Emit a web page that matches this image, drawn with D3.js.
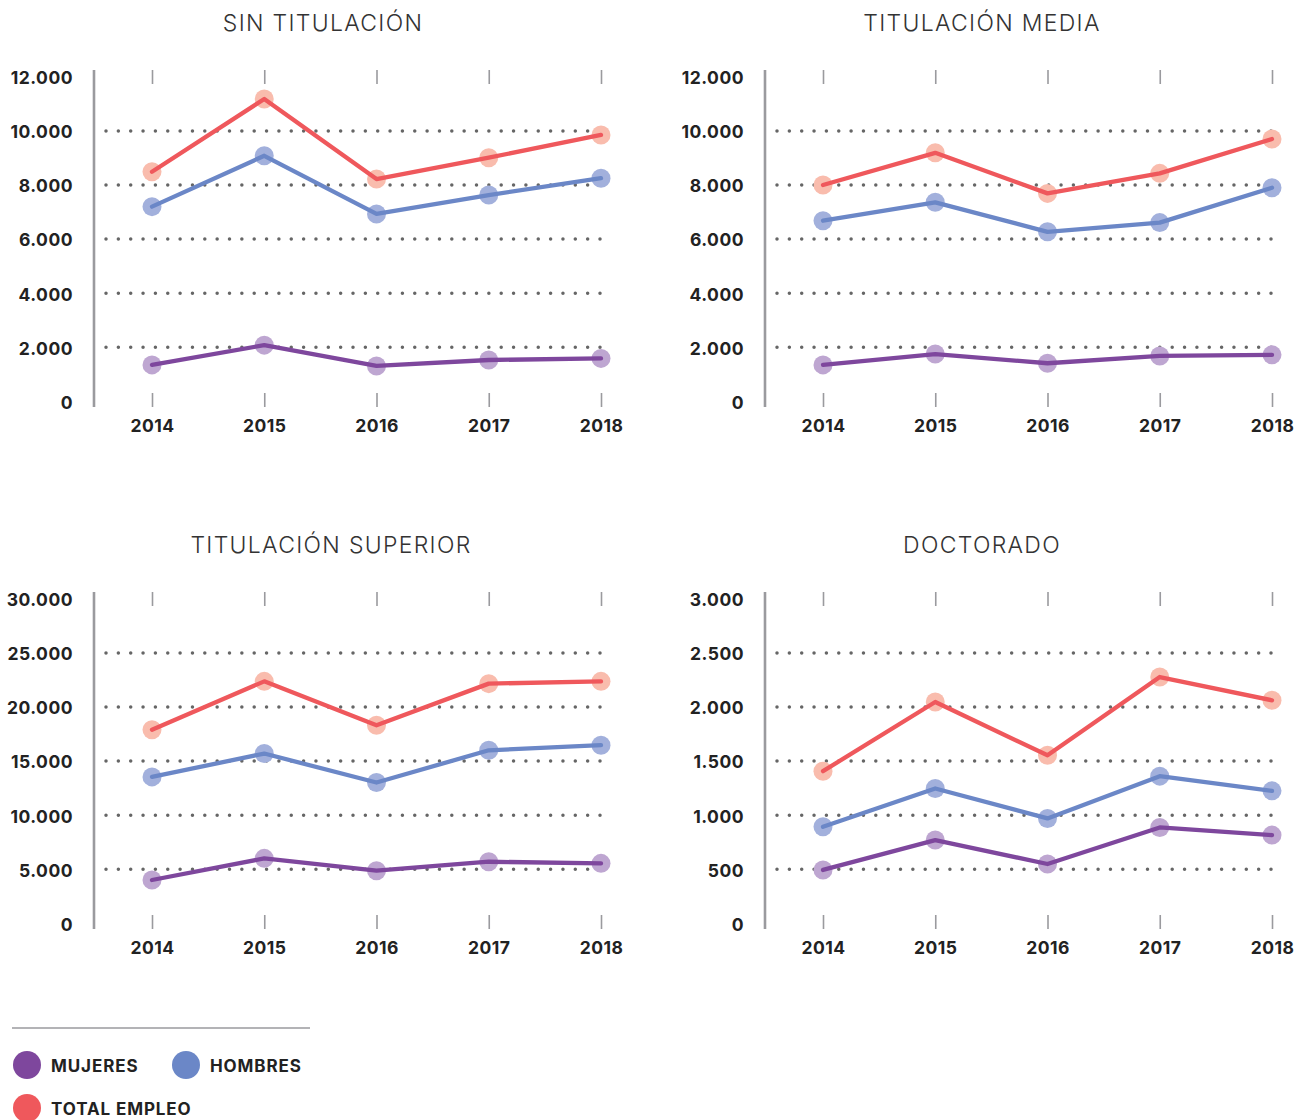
<!DOCTYPE html>
<html>
<head>
<meta charset="utf-8">
<script src="https://cdn.jsdelivr.net/npm/d3@7"></script>
<style>
  body { margin: 0; background: #fff; }
  svg { display: block; }
  .ytick text, .xtick text { font-family: Inter, "Noto Sans", sans-serif; font-weight: 700; font-size: 17.5px; fill: #222; letter-spacing: 0.5px; }
  .title { font-family: Inter, "Noto Sans", sans-serif; font-weight: 300; font-size: 23px; fill: #333; letter-spacing: 1.3px; }
  .legend text { font-family: Inter, "Noto Sans", sans-serif; font-weight: 700; font-size: 17px; fill: #222; letter-spacing: 0.9px; }
</style>
</head>
<body>
<div id="chart"></div>
<script>
// data
var years = ["2014", "2015", "2016", "2017", "2018"];

var sinMujeres = [1350, 2080, 1310, 1530, 1590];
var sinHombres = [7200, 9080, 6930, 7630, 8250];
var sinTotal   = [8490, 11180, 8220, 9010, 9850];
var sinTicks   = [0, 2000, 4000, 6000, 8000, 10000, 12000];

var mediaMujeres = [1350, 1750, 1410, 1680, 1720];
var mediaHombres = [6680, 7360, 6270, 6610, 7900];
var mediaTotal   = [8000, 9190, 7690, 8430, 9700];
var mediaTicks   = [0, 2000, 4000, 6000, 8000, 10000, 12000];

var supMujeres = [4010, 6010, 4870, 5700, 5550];
var supHombres = [13540, 15700, 13020, 16000, 16470];
var supTotal   = [17900, 22370, 18310, 22160, 22370];
var supTicks   = [0, 5000, 10000, 15000, 20000, 25000, 30000];

var docMujeres = [494, 770, 549, 887, 816];
var docHombres = [893, 1247, 970, 1361, 1225];
var docTotal   = [1407, 2046, 1554, 2277, 2062];
var docTicks   = [0, 500, 1000, 1500, 2000, 2500, 3000];

var seriesNames = ["TOTAL EMPLEO", "HOMBRES", "MUJERES"];
var lineColors = {"MUJERES": "#7e479d", "HOMBRES": "#6b87c7", "TOTAL EMPLEO": "#ef585c"};
var dotColors  = {"MUJERES": "#bea6d1", "HOMBRES": "#a2b0dc", "TOTAL EMPLEO": "#f9bcad"};

var panels = [
  {title: "SIN TITULACIÓN", ticks: sinTicks, values: [sinTotal, sinHombres, sinMujeres], dx: 0, dy: 0, tx: 323},
  {title: "TITULACIÓN MEDIA", ticks: mediaTicks, values: [mediaTotal, mediaHombres, mediaMujeres], dx: 671, dy: 0, tx: 311},
  {title: "TITULACIÓN SUPERIOR", ticks: supTicks, values: [supTotal, supHombres, supMujeres], dx: 0, dy: 522, tx: 331},
  {title: "DOCTORADO", ticks: docTicks, values: [docTotal, docHombres, docMujeres], dx: 671, dy: 522, tx: 311}
];

var width = 1311, height = 1120;
var locale = d3.formatLocale({decimal: ",", thousands: ".", grouping: [3], currency: ["", ""]});
var fmt = locale.format(",");

var svg = d3.select("#chart").append("svg")
    .attr("width", width)
    .attr("height", height);

var x = d3.scalePoint().domain(years).range([152, 601]);

panels.forEach(function(p) {
    var g = svg.append("g").attr("transform", "translate(" + p.dx + "," + p.dy + ")");
    var ymax = p.ticks[p.ticks.length - 1];
    var y = d3.scaleLinear().domain([0, ymax]).range([401.4, 76.8]);

    g.append("text")
        .attr("class", "title")
        .attr("x", p.tx)
        .attr("y", 31)
        .attr("text-anchor", "middle")
        .text(p.title);

    // dotted grid, skipping 0 and the top value
    g.selectAll(".grid")
        .data(p.ticks.slice(1, -1))
        .enter().append("line")
        .attr("class", "grid")
        .attr("x1", 106)
        .attr("x2", 603)
        .attr("y1", function(d) { return y(d); })
        .attr("y2", function(d) { return y(d); })
        .attr("stroke", "#666")
        .attr("stroke-width", 3.5)
        .attr("stroke-linecap", "round")
        .attr("stroke-dasharray", "0,12.35");

    // y labels
    var yAxis = g.append("g")
        .attr("class", "ytick")
        .attr("transform", "translate(94,1.2)")
        .call(d3.axisLeft(y).tickValues(p.ticks).tickFormat(fmt).tickSize(0).tickPadding(21));
    yAxis.select(".domain").remove();
    yAxis.selectAll("text").attr("font-family", null).attr("font-size", null);

    // vertical axis line
    g.append("line")
        .attr("x1", 94).attr("x2", 94)
        .attr("y1", 70).attr("y2", 407)
        .attr("stroke", "#9a9a9e")
        .attr("stroke-width", 2.6);

    // top ticks
    var top = g.append("g")
        .attr("transform", "translate(0,84)")
        .call(d3.axisTop(x).tickSize(14).tickFormat(""));
    top.select(".domain").remove();
    top.selectAll("line").attr("stroke", "#9a9a9e").attr("stroke-width", 1.6);

    // bottom ticks and years
    var bottom = g.append("g")
        .attr("class", "xtick")
        .attr("transform", "translate(0,393)")
        .call(d3.axisBottom(x).tickSize(14).tickPadding(13));
    bottom.select(".domain").remove();
    bottom.selectAll("line").attr("stroke", "#9a9a9e").attr("stroke-width", 1.6);
    bottom.selectAll("text").attr("font-family", null).attr("font-size", null);

    var line = d3.line()
        .x(function(d, i) { return x(years[i]); })
        .y(function(d) { return y(d); });

    seriesNames.forEach(function(name, k) {
        var vals = p.values[k];
        g.append("g").selectAll("circle")
            .data(vals)
            .enter().append("circle")
            .attr("cx", function(d, i) { return x(years[i]); })
            .attr("cy", function(d) { return y(d); })
            .attr("r", 9.5)
            .attr("fill", dotColors[name]);
    });
    seriesNames.forEach(function(name, k) {
        g.append("path")
            .datum(p.values[k])
            .attr("d", line)
            .attr("fill", "none")
            .attr("stroke", lineColors[name])
            .attr("stroke-width", 4.3)
            .attr("stroke-linejoin", "round")
            .attr("stroke-linecap", "round");
    });
});

// legend
var legendItems = [
    {name: "MUJERES", cx: 27, cy: 1065},
    {name: "HOMBRES", cx: 186, cy: 1065},
    {name: "TOTAL EMPLEO", cx: 27, cy: 1108}
];
var legend = svg.append("g").attr("class", "legend");
legend.append("line")
    .attr("x1", 12).attr("x2", 310)
    .attr("y1", 1028).attr("y2", 1028)
    .attr("stroke", "#9a9a9e")
    .attr("stroke-width", 1.5);
var li = legend.selectAll(".item")
    .data(legendItems)
    .enter().append("g")
    .attr("class", "item");
li.append("circle")
    .attr("cx", function(d) { return d.cx; })
    .attr("cy", function(d) { return d.cy; })
    .attr("r", 14)
    .attr("fill", function(d) { return lineColors[d.name]; });
li.append("text")
    .attr("x", function(d) { return d.cx + 24; })
    .attr("y", function(d) { return d.cy + 7; })
    .text(function(d) { return d.name; });
</script>
</body>
</html>
